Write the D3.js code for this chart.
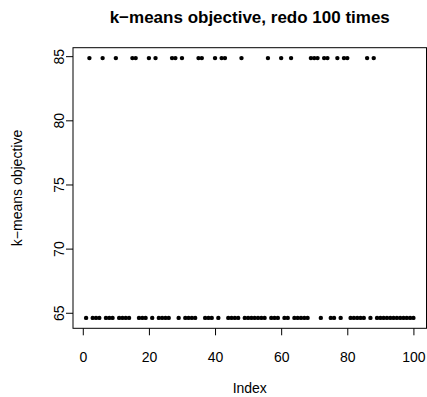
<!DOCTYPE html>
<html>
<head>
<meta charset="utf-8">
<script src="https://cdn.jsdelivr.net/npm/d3@7"></script>
<style>
  body { margin: 0; background: #fff; }
  svg { display: block; font-family: "Liberation Sans", Arial, sans-serif; }
</style>
</head>
<body>
<svg id="chart"></svg>
<script>
// k-means objective of each of the 100 restarts
const runs = d3.range(1, 101)
const objective = [
  64.6, 84.85, 64.6, 64.6, 64.6, 84.85, 64.6, 64.6, 64.6, 84.85,
  64.6, 64.6, 64.6, 64.6, 84.85, 84.85, 64.6, 64.6, 64.6, 84.85,
  64.6, 84.85, 64.6, 64.6, 64.6, 64.6, 84.85, 84.85, 64.6, 84.85,
  64.6, 64.6, 64.6, 64.6, 84.85, 84.85, 64.6, 64.6, 64.6, 84.85,
  64.6, 84.85, 84.85, 64.6, 64.6, 64.6, 64.6, 84.85, 64.6, 64.6,
  64.6, 64.6, 64.6, 64.6, 64.6, 84.85, 64.6, 64.6, 64.6, 84.85,
  64.6, 64.6, 84.85, 64.6, 64.6, 64.6, 64.6, 64.6, 84.85, 84.85,
  84.85, 64.6, 84.85, 84.85, 64.6, 64.6, 84.85, 64.6, 84.85, 84.85,
  64.6, 64.6, 64.6, 64.6, 64.6, 84.85, 64.6, 84.85, 64.6, 64.6,
  64.6, 64.6, 64.6, 64.6, 64.6, 64.6, 64.6, 64.6, 64.6, 64.6
]
const xTicks = [0, 20, 40, 60, 80, 100]
const yTicks = [65, 70, 75, 80, 85]

const [width, height] = [427, 397]
const box = { left: 73, right: 426.5, top: 47.7, bottom: 328.3 }

let svg = d3.select('#chart')
  .attr('width', width)
  .attr('height', height)

// R style: pad the data range by 4% on each side
let pad = function(ext) {
  let d = (ext[1] - ext[0]) * 0.04
  return [ext[0] - d, ext[1] + d]
}

let x = d3.scaleLinear()
  .domain(pad(d3.extent(runs)))
  .range([box.left, box.right])

let y = d3.scaleLinear()
  .domain(pad(d3.extent(objective)))
  .range([box.bottom, box.top])

// x axis
let xAxis = svg.append('g')
  .attr('transform', 'translate(0,' + box.bottom + ')')
  .call(d3.axisBottom(x).tickValues(xTicks).tickSize(7).tickPadding(16.4))
xAxis.select('.domain').remove()
xAxis.selectAll('line').attr('stroke', '#000')
xAxis.selectAll('text')
  .attr('font-size', 14)
  .attr('font-family', '"Liberation Sans", Arial, sans-serif')
  .attr('fill', '#000')

// y axis, labels turned like R's las = 0
let yAxis = svg.append('g')
  .attr('transform', 'translate(' + box.left + ',0)')
  .call(d3.axisLeft(y).tickValues(yTicks).tickSize(7))
yAxis.select('.domain').remove()
yAxis.selectAll('line').attr('stroke', '#000')
yAxis.selectAll('text')
  .attr('x', 0)
  .attr('y', -9)
  .attr('dy', 0)
  .attr('transform', 'rotate(-90)')
  .attr('text-anchor', 'middle')
  .attr('font-size', 14)
  .attr('font-family', '"Liberation Sans", Arial, sans-serif')
  .attr('fill', '#000')

// plot box
svg.append('rect')
  .attr('x', box.left)
  .attr('y', box.top)
  .attr('width', box.right - box.left)
  .attr('height', box.bottom - box.top)
  .attr('fill', 'none')
  .attr('stroke', '#000')
  .attr('stroke-width', 1)

// points
svg.append('g')
  .selectAll('circle')
  .data(objective)
  .enter()
  .append('circle')
  .attr('cx', function(d, i) { return x(runs[i]) })
  .attr('cy', function(d) { return y(d) })
  .attr('r', 2.2)
  .attr('fill', '#000')

// titles
let mid = (box.left + box.right) / 2
svg.append('text')
  .attr('x', mid)
  .attr('y', 23)
  .attr('text-anchor', 'middle')
  .attr('font-size', 17)
  .attr('font-weight', 'bold')
  .text('k\u2212means objective, redo 100 times')

svg.append('text')
  .attr('x', mid)
  .attr('y', 393)
  .attr('text-anchor', 'middle')
  .attr('font-size', 14)
  .text('Index')

svg.append('text')
  .attr('transform', 'translate(22,' + (box.top + box.bottom) / 2 + ') rotate(-90)')
  .attr('text-anchor', 'middle')
  .attr('font-size', 14)
  .text('k\u2212means objective')
</script>
</body>
</html>
